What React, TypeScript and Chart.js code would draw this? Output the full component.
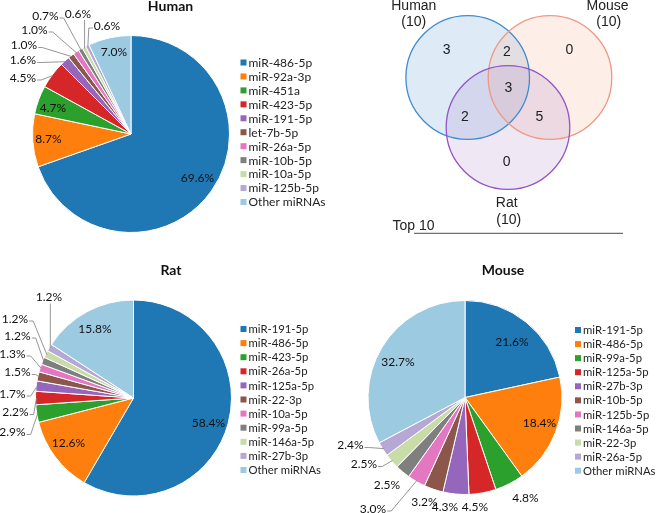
import React, { useEffect, useRef } from 'react';
import { Chart, registerables } from 'chart.js';

Chart.register(...registerables);

// ---------------- data ----------------
const humanLabels = ['miR-486-5p', 'miR-92a-3p', 'miR-451a', 'miR-423-5p', 'miR-191-5p', 'let-7b-5p', 'miR-26a-5p', 'miR-10b-5p', 'miR-10a-5p', 'miR-125b-5p', 'Other miRNAs'];
const humanValues = [69.6, 8.7, 4.7, 4.5, 1.6, 1.0, 1.0, 0.7, 0.6, 0.6, 7.0];

const ratLabels = ['miR-191-5p', 'miR-486-5p', 'miR-423-5p', 'miR-26a-5p', 'miR-125a-5p', 'miR-22-3p', 'miR-10a-5p', 'miR-99a-5p', 'miR-146a-5p', 'miR-27b-3p', 'Other miRNAs'];
const ratValues = [58.4, 12.6, 2.9, 2.2, 1.7, 1.5, 1.3, 1.2, 1.2, 1.2, 15.8];

const mouseLabels = ['miR-191-5p', 'miR-486-5p', 'miR-99a-5p', 'miR-125a-5p', 'miR-27b-3p', 'miR-10b-5p', 'miR-125b-5p', 'miR-146a-5p', 'miR-22-3p', 'miR-26a-5p', 'Other miRNAs'];
const mouseValues = [21.6, 18.4, 4.8, 4.5, 4.3, 3.2, 3.0, 2.5, 2.5, 2.4, 32.7];

const vennSetNames = ['Human', 'Mouse', 'Rat'];
const vennSetSizes = [10, 10, 10];
const vennRegionCounts = [3, 2, 0, 3, 2, 5, 0]; // H only, H∩M, M only, H∩M∩R, H∩R, M∩R, R only
const vennCaption = 'Top 10';

// ---------------- styles / layout ----------------
const sliceColors = ['#1f77b4', '#ff7f0e', '#2ca02c', '#d62728', '#9467bd', '#8c564b', '#e377c2', '#7f7f7f', '#c7dca7', '#b5a8d5', '#9ccae1'];
const PIE_FONT = 'Lato, "Open Sans", sans-serif';
const VENN_FONT = '"Liberation Sans", Arial, sans-serif';

interface PieSpec {
  title: string;
  labels: string[];
  values: number[];
  left: number; top: number; width: number; height: number;
  cx: number; cy: number; r: number;
  titleX: number; titleY: number;
  legendX: number; legendY: number; legendStep: number; legendFont: number;
  labelPos: [number, number][];
  leaders: number[];
}

const humanSpec: PieSpec = {
  title: 'Human', labels: humanLabels, values: humanValues,
  left: 0, top: 0, width: 330, height: 250,
  cx: 131, cy: 134, r: 99,
  titleX: 170.5, titleY: 6.5,
  legendX: 240.5, legendY: 62.5, legendStep: 13.95, legendFont: 12,
  labelPos: [[66.5, 44], [-82.5, 5], [-78, -26], [-108, -56], [-108, -73.5], [-107, -88.5], [-96.5, -104], [-85.5, -118], [-53, -120], [-24, -108], [-17, -82]],
  leaders: [3, 4, 5, 6, 7, 8, 9],
};

const ratSpec: PieSpec = {
  title: 'Rat', labels: ratLabels, values: ratValues,
  left: 0, top: 250, width: 330, height: 263,
  cx: 133.5, cy: 148, r: 98.5,
  titleX: 171, titleY: 20.5,
  legendX: 240.5, legendY: 79, legendStep: 14.1, legendFont: 11.3,
  labelPos: [[75, 25], [-65, 45.5], [-121, 34.5], [-118, 14.5], [-121, -4], [-116, -25.5], [-121, -44], [-116, -62], [-118.5, -79], [-84.5, -100.5], [-38.5, -69]],
  leaders: [2, 3, 4, 5, 6, 7, 8, 9],
};

const mouseSpec: PieSpec = {
  title: 'Mouse', labels: mouseLabels, values: mouseValues,
  left: 330, top: 250, width: 327, height: 263,
  cx: 135, cy: 147.5, r: 97.5,
  titleX: 173, titleY: 20.5,
  legendX: 245, legendY: 80, legendStep: 14.07, legendFont: 11.3,
  labelPos: [[47, -55.5], [74.5, 25.5], [60.5, 100.5], [10, 110], [-20, 110], [-40.5, 104.5], [-92, 111.5], [-78, 87.5], [-101, 67], [-114.5, 48], [-67, -35.5]],
  leaders: [6, 8, 9],
};

// Venn geometry in units of circle radius
const vennCircles = [
  { x: 0, y: 0, r: 1, fill: 'rgba(91,155,213,0.20)', stroke: '#3f8bd0' },
  { x: 1.332, y: 0, r: 1, fill: 'rgba(244,170,140,0.20)', stroke: '#ee9883' },
  { x: 0.652, y: -0.809, r: 1, fill: 'rgba(160,110,190,0.17)', stroke: '#9254c6' },
];
const vennRegionPos: [number, number][] = [[-0.341, 0.445], [0.636, 0.408], [1.644, 0.445], [0.657, -0.175], [-0.044, -0.634], [1.159, -0.634], [0.631, -1.372]];
const vennNamePos: [number, number][] = [[-0.872, 1.149], [2.262, 1.149], [0.631, -2.028]];
const vennSizePos: [number, number][] = [[-0.872, 0.903], [2.283, 0.903], [0.663, -2.301]];
const vennCaptionPos: [number, number] = [-0.877, -2.403];
const vennRuleFrom: [number, number] = [-0.869, -2.521];
const vennRuleTo: [number, number] = [2.513, -2.521];

// ---------------- plugins ----------------
function pieDecor(spec: PieSpec) {
  return {
    id: 'pieDecor',
    afterDraw(chart: any) {
      const ctx: CanvasRenderingContext2D = chart.ctx;
      const meta = chart.getDatasetMeta(0);
      const ds = chart.data.datasets[0];
      ctx.save();
      // title
      ctx.fillStyle = '#111';
      ctx.font = `bold 14px ${PIE_FONT}`;
      ctx.textAlign = 'center';
      ctx.textBaseline = 'middle';
      ctx.fillText(spec.title, spec.titleX, spec.titleY);
      // legend
      ctx.font = `${spec.legendFont}px ${PIE_FONT}`;
      ctx.textAlign = 'left';
      (chart.data.labels as string[]).forEach((lab, i) => {
        const y = spec.legendY + i * spec.legendStep;
        ctx.fillStyle = ds.backgroundColor[i];
        ctx.fillRect(spec.legendX, y - 3, 6, 6);
        ctx.fillStyle = '#222';
        ctx.fillText(lab, spec.legendX + 8, y + 0.5);
      });
      // slice labels
      ctx.font = `12px ${PIE_FONT}`;
      ctx.textAlign = 'center';
      meta.data.forEach((arc: any, i: number) => {
        const p = arc.getProps(['x', 'y', 'startAngle', 'endAngle', 'outerRadius'], true);
        const [dx, dy] = spec.labelPos[i];
        const lx = p.x + dx;
        const ly = p.y + dy;
        const text = (ds.data[i] as number).toFixed(1) + '%';
        if (spec.leaders.includes(i)) {
          const mid = (p.startAngle + p.endAngle) / 2;
          const tx = p.x + Math.cos(mid) * (p.outerRadius - 1);
          const ty = p.y + Math.sin(mid) * (p.outerRadius - 1);
          const w = ctx.measureText(text).width;
          const box = { l: lx - w / 2, r: lx + w / 2, t: ly - 5, b: ly + 5 };
          let ax: number, ay: number, sx: number, sy: number;
          if (tx > box.r + 1) { ax = box.r + 1; ay = ly + 2; sx = ax + 4; sy = ay; }
          else if (tx < box.l - 1) { ax = box.l - 1; ay = ly + 2; sx = ax - 4; sy = ay; }
          else if (ty > box.b) { ax = tx; ay = box.b + 1; sx = ax; sy = ay + 1; }
          else { ax = tx; ay = box.t - 1; sx = ax; sy = ay - 1; }
          ctx.beginPath();
          ctx.strokeStyle = '#8a8a8a';
          ctx.lineWidth = 0.9;
          ctx.moveTo(ax, ay);
          ctx.lineTo(sx, sy);
          ctx.lineTo(tx, ty);
          ctx.stroke();
        }
        ctx.fillStyle = '#111';
        ctx.fillText(text, lx, ly);
      });
      ctx.restore();
    },
  };
}

const vennDecor = {
  id: 'vennDecor',
  afterDraw(chart: any) {
    const ctx: CanvasRenderingContext2D = chart.ctx;
    const xs = chart.scales.x;
    const ys = chart.scales.y;
    const px = (v: number) => xs.getPixelForValue(v);
    const py = (v: number) => ys.getPixelForValue(v);
    const unit = px(1) - px(0);
    ctx.save();
    vennCircles.forEach((c) => {
      ctx.beginPath();
      ctx.arc(px(c.x), py(c.y), c.r * unit, 0, Math.PI * 2);
      ctx.fillStyle = c.fill;
      ctx.fill();
    });
    vennCircles.forEach((c) => {
      ctx.beginPath();
      ctx.arc(px(c.x), py(c.y), c.r * unit, 0, Math.PI * 2);
      ctx.strokeStyle = c.stroke;
      ctx.lineWidth = 1.3;
      ctx.stroke();
    });
    ctx.fillStyle = '#222';
    ctx.font = `14px ${VENN_FONT}`;
    ctx.textAlign = 'center';
    ctx.textBaseline = 'middle';
    vennRegionCounts.forEach((n, i) => {
      const [x, y] = vennRegionPos[i];
      ctx.fillText(String(n), px(x), py(y));
    });
    vennSetNames.forEach((name, i) => {
      ctx.fillText(name, px(vennNamePos[i][0]), py(vennNamePos[i][1]));
      ctx.fillText(`(${vennSetSizes[i]})`, px(vennSizePos[i][0]), py(vennSizePos[i][1]));
    });
    ctx.fillText(vennCaption, px(vennCaptionPos[0]), py(vennCaptionPos[1]));
    ctx.beginPath();
    ctx.strokeStyle = '#6e6e6e';
    ctx.lineWidth = 1.2;
    ctx.moveTo(px(vennRuleFrom[0]), py(vennRuleFrom[1]));
    ctx.lineTo(px(vennRuleTo[0]), py(vennRuleTo[1]));
    ctx.stroke();
    ctx.restore();
  },
};

// ---------------- components ----------------
function PieChart({ spec }: { spec: PieSpec }) {
  const ref = useRef<HTMLCanvasElement>(null);
  useEffect(() => {
    const chart = new Chart(ref.current as HTMLCanvasElement, {
      type: 'pie',
      data: {
        labels: spec.labels,
        datasets: [{
          data: spec.values,
          backgroundColor: sliceColors,
          borderColor: '#ffffff',
          borderWidth: 1,
        }],
      },
      options: {
        responsive: false,
        animation: false,
        events: [],
        layout: {
          padding: {
            left: spec.cx - spec.r,
            top: spec.cy - spec.r,
            right: spec.width - spec.cx - spec.r,
            bottom: spec.height - spec.cy - spec.r,
          },
        },
        plugins: { legend: { display: false }, tooltip: { enabled: false }, title: { display: false } },
      },
      plugins: [pieDecor(spec)],
    } as any);
    let alive = true;
    (document as any).fonts?.ready?.then(() => { if (alive) chart.draw(); });
    return () => { alive = false; chart.destroy(); };
  }, [spec]);
  return (
    <canvas
      ref={ref}
      width={spec.width}
      height={spec.height}
      style={{ position: 'absolute', left: spec.left, top: spec.top, width: spec.width, height: spec.height }}
    />
  );
}

function VennChart() {
  const ref = useRef<HTMLCanvasElement>(null);
  const W = 327, H = 250, unitPx = 61.8, ox = 137.7, oy = 77.5;
  useEffect(() => {
    const chart = new Chart(ref.current as HTMLCanvasElement, {
      type: 'scatter',
      data: {
        datasets: [{
          data: vennRegionPos.map(([x, y]) => ({ x, y })),
          pointRadius: 0,
        }],
      },
      options: {
        responsive: false,
        animation: false,
        events: [],
        layout: { padding: 0 },
        scales: {
          x: { type: 'linear', display: false, min: -ox / unitPx, max: (W - ox) / unitPx },
          y: { type: 'linear', display: false, min: -(H - oy) / unitPx, max: oy / unitPx },
        },
        plugins: { legend: { display: false }, tooltip: { enabled: false } },
      },
      plugins: [vennDecor],
    } as any);
    let alive = true;
    (document as any).fonts?.ready?.then(() => { if (alive) chart.draw(); });
    return () => { alive = false; chart.destroy(); };
  }, []);
  return (
    <canvas
      ref={ref}
      width={W}
      height={H}
      style={{ position: 'absolute', left: 330, top: 0, width: W, height: H }}
    />
  );
}

export default function App() {
  return (
    <div style={{ position: 'fixed', left: 0, top: 0, width: 657, height: 513, background: '#ffffff', overflow: 'hidden' }}>
      <PieChart spec={humanSpec} />
      <VennChart />
      <PieChart spec={ratSpec} />
      <PieChart spec={mouseSpec} />
    </div>
  );
}
